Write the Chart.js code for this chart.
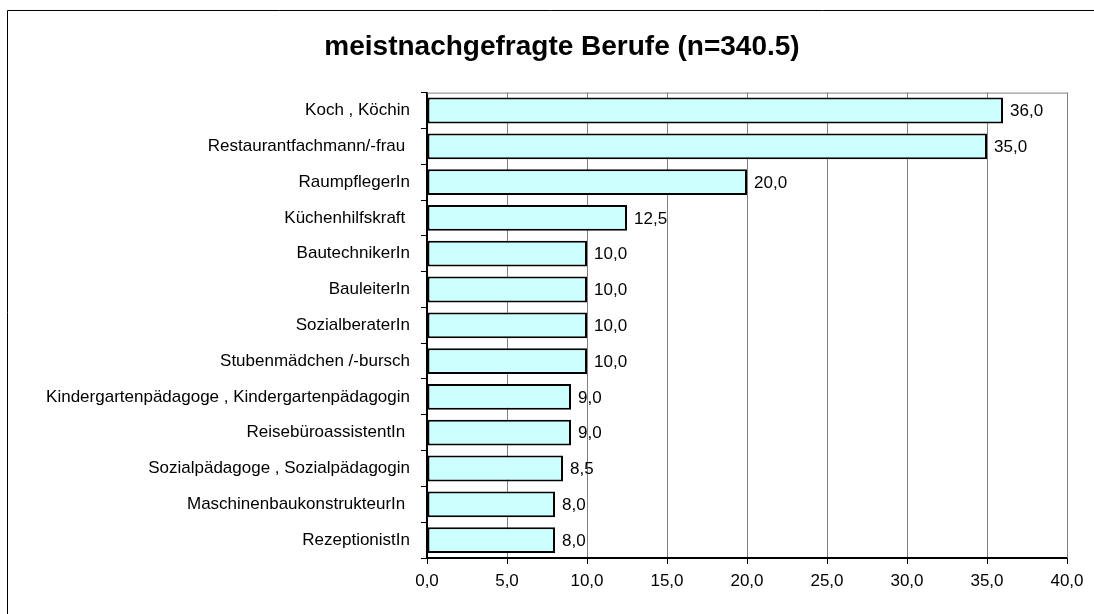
<!DOCTYPE html>
<html>
<head>
<meta charset="utf-8">
<script src="https://cdn.jsdelivr.net/npm/chart.js@4/dist/chart.umd.min.js"></script>
<style>
  html, body { margin: 0; padding: 0; background: #fff; }
  #wrap { width: 1094px; height: 614px; }
</style>
</head>
<body>
<div id="wrap"><canvas id="berufeChart"></canvas></div>
<script>
// most requested jobs
const jobs = [
  "Koch , Köchin",
  "Restaurantfachmann/-frau ",
  "RaumpflegerIn",
  "Küchenhilfskraft ",
  "BautechnikerIn",
  "BauleiterIn",
  "SozialberaterIn",
  "Stubenmädchen /-bursch",
  "Kindergartenpädagoge , Kindergartenpädagogin",
  "ReisebüroassistentIn ",
  "Sozialpädagoge , Sozialpädagogin",
  "MaschinenbaukonstrukteurIn ",
  "RezeptionistIn",
];
const counts = [36, 35, 20, 12.5, 10, 10, 10, 10, 9, 9, 8.5, 8, 8];
const xTicks = [0, 5, 10, 15, 20, 25, 30, 35, 40];

const fmt = (v) => Number(v).toFixed(1).replace(".", ",");
const font = "'Liberation Sans', Arial, sans-serif";

// outer frame + gray border of plot area
const framePlugin = {
  id: "frame",
  beforeDraw(chart) {
    const c = chart.ctx;
    c.save();
    c.strokeStyle = "#000";
    c.lineWidth = 1;
    c.beginPath();
    c.moveTo(7.5, 614);
    c.lineTo(7.5, 10.5);
    c.lineTo(1094, 10.5);
    c.stroke();
    c.restore();
  },
  afterDatasetsDraw(chart) {
    const a = chart.chartArea;
    const c = chart.ctx;
    c.save();
    c.strokeStyle = "#808080";
    c.lineWidth = 1;
    c.beginPath();
    c.moveTo(a.left, a.top + 0.5);
    c.lineTo(a.right + 0.5, a.top + 0.5);
    c.lineTo(a.right + 0.5, a.bottom);
    c.stroke();
    c.restore();
  },
};

// value labels at bar ends
const valueLabels = {
  id: "valueLabels",
  afterDatasetsDraw(chart) {
    const c = chart.ctx;
    const meta = chart.getDatasetMeta(0);
    c.save();
    c.font = "17px " + font;
    c.fillStyle = "#000";
    c.textAlign = "left";
    c.textBaseline = "middle";
    meta.data.forEach((bar, i) => {
      c.fillText(fmt(counts[i]), bar.x + 7, bar.y + 1);
    });
    c.restore();
  },
};

new Chart(document.getElementById("berufeChart"), {
  type: "bar",
  data: {
    labels: jobs,
    datasets: [
      {
        data: counts,
        backgroundColor: "#CCFFFF",
        borderColor: "#000",
        borderWidth: 2,
        borderSkipped: false,
        categoryPercentage: 0.72,
        barPercentage: 1,
      },
    ],
  },
  options: {
    indexAxis: "y",
    responsive: true,
    maintainAspectRatio: false,
    animation: false,
    layout: { padding: { left: 30, right: 0, top: 0, bottom: 0 } },
    plugins: {
      legend: { display: false },
      tooltip: { enabled: false },
      title: {
        display: true,
        text: "meistnachgefragte Berufe (n=340.5)",
        color: "#000",
        font: { family: font, size: 28, weight: "bold" },
        padding: { top: 30, bottom: 29 },
      },
    },
    scales: {
      x: {
        min: 0,
        max: 40,
        afterBuildTicks(scale) {
          scale.ticks = xTicks.map((v) => ({ value: v }));
        },
        afterFit(scale) {
          scale.height = 56;
          scale.paddingRight = 27;
        },
        ticks: {
          color: "#000",
          font: { family: font, size: 17 },
          padding: 7,
          maxRotation: 0,
          callback: (v) => fmt(v),
        },
        grid: {
          color: "#808080",
          tickColor: "#000",
          tickLength: 6,
          lineWidth: 1,
        },
        border: { color: "#000", width: 2 },
      },
      y: {
        afterFit(scale) {
          scale.width = 397;
        },
        ticks: {
          color: "#000",
          font: { family: font, size: 17 },
          padding: 11,
        },
        grid: {
          offset: true,
          drawOnChartArea: false,
          tickColor: "#000",
          tickLength: 6,
        },
        border: { color: "#000", width: 2 },
      },
    },
  },
  plugins: [framePlugin, valueLabels],
});
</script>
</body>
</html>
